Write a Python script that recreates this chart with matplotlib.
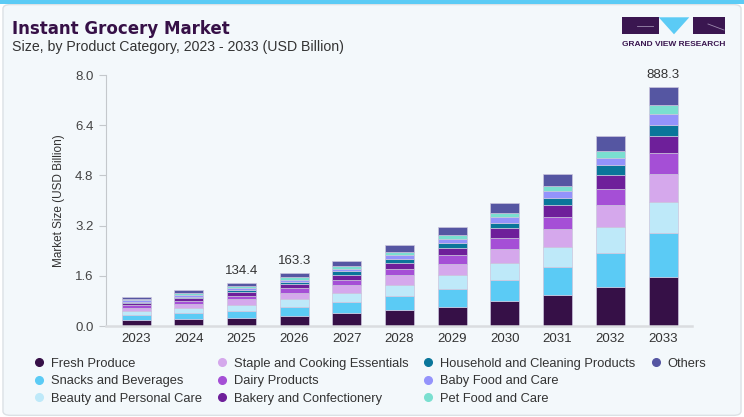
import numpy as np
import matplotlib
matplotlib.use("Agg")
from matplotlib import pyplot as plt
from matplotlib.lines import Line2D
from matplotlib.patches import FancyBboxPatch, Rectangle, Polygon

plt.rcParams['font.family'] = ['Liberation Sans', 'DejaVu Sans']

# values (USD billion)
years = ['2023', '2024', '2025', '2026', '2027', '2028', '2029', '2030', '2031', '2032', '2033']
fresh = [0.18, 0.21, 0.25, 0.33, 0.40, 0.51, 0.62, 0.79, 0.99, 1.24, 1.57]
snacks = [0.16, 0.20, 0.24, 0.29, 0.37, 0.45, 0.57, 0.69, 0.88, 1.08, 1.38]
beauty = [0.13, 0.16, 0.19, 0.23, 0.29, 0.34, 0.42, 0.53, 0.64, 0.82, 1.01]
staple = [0.11, 0.14, 0.17, 0.21, 0.24, 0.31, 0.36, 0.46, 0.57, 0.71, 0.88]
dairy = [0.08, 0.10, 0.12, 0.14, 0.18, 0.22, 0.28, 0.34, 0.41, 0.53, 0.68]
bakery = [0.07, 0.07, 0.10, 0.13, 0.15, 0.18, 0.23, 0.30, 0.36, 0.44, 0.53]
household = [0.05, 0.06, 0.07, 0.08, 0.11, 0.14, 0.16, 0.18, 0.23, 0.30, 0.37]
baby = [0.04, 0.05, 0.06, 0.07, 0.08, 0.11, 0.14, 0.17, 0.21, 0.25, 0.33]
pet = [0.04, 0.05, 0.06, 0.07, 0.08, 0.10, 0.12, 0.15, 0.17, 0.22, 0.28]
others = [0.08, 0.10, 0.12, 0.14, 0.17, 0.22, 0.27, 0.31, 0.39, 0.48, 0.59]

series = [fresh, snacks, beauty, staple, dairy, bakery, household, baby, pet, others]
names = ['Fresh Produce', 'Snacks and Beverages', 'Beauty and Personal Care',
         'Staple and Cooking Essentials', 'Dairy Products', 'Bakery and Confectionery',
         'Household and Cleaning Products', 'Baby Food and Care', 'Pet Food and Care', 'Others']
colors = ['#361047', '#5BCBF5', '#BEE9F9', '#D5A8EC', '#A54FD6',
          '#6E1F9A', '#0A769A', '#9493FB', '#7ADFD0', '#5556A2']

# labels printed above some bars
label_idx = [2, 3, 10]
label_txt = ['134.4', '163.3', '888.3']

bg = '#F3F8FB'
fig = plt.figure(figsize=(7.44, 4.17), dpi=100, facecolor='white')

# card + top strip (kept under the axes)
card = FancyBboxPatch((0.004, 0.004), 0.992, 0.985, boxstyle="round,pad=0,rounding_size=0.01",
                      transform=fig.transFigure, facecolor=bg, edgecolor='#DCE1E5', lw=1,
                      zorder=-10)
fig.patches.append(card)
fig.patches.append(Rectangle((0, 0.991), 1, 0.009, transform=fig.transFigure,
                             facecolor='#5BCBF5', edgecolor='none', zorder=-9))

ax = fig.add_axes([0.1425, 0.2182, 0.7876, 0.6019])
ax.set_facecolor('none')

x = np.arange(len(years))
bottom = np.zeros(len(years))
for vals, name, col in zip(series, names, colors):
    ax.bar(x, vals, width=0.55, bottom=bottom, color=col, label=name,
           edgecolor='#CBC5DD', linewidth=0.5)
    bottom += np.array(vals)

for i, t in zip(label_idx, label_txt):
    ax.annotate(t, (x[i], bottom[i]), xytext=(0, 4), textcoords='offset points',
                ha='center', va='bottom', fontsize=9.5, color='#333333')

ax.set_xlim(-0.57, 10.55)
ax.set_ylim(0, 8.0)
ax.set_yticks([0, 1.6, 3.2, 4.8, 6.4, 8.0])
ax.set_yticklabels(['0.0', '1.6', '3.2', '4.8', '6.4', '8.0'])
ax.set_xticks(x)
ax.set_xticklabels(years)
ax.tick_params(axis='y', length=5, width=0.8, color='#C4C8CC', pad=4,
               labelsize=9.5, labelcolor='#444444')
ax.tick_params(axis='x', length=0, pad=5, labelsize=9.5, labelcolor='#333333')
ax.set_ylabel('Market Size (USD Billion)', fontsize=8.5, color='#333333', labelpad=7)

for s in ['top', 'right']:
    ax.spines[s].set_visible(False)
ax.spines['left'].set_color('#C4C8CC')
ax.spines['left'].set_linewidth(0.8)
ax.spines['bottom'].set_color('#DADDE0')
ax.spines['bottom'].set_linewidth(1.8)

# titles
fig.text(0.016, 1 - 33.5 / 417, 'Instant Grocery Market', fontsize=12, fontweight='bold',
         family='DejaVu Sans', color='#361047', va='baseline')
fig.text(0.016, 1 - 51.5 / 417, 'Size, by Product Category, 2023 - 2033 (USD Billion)',
         fontsize=10.2, color='#333333', va='baseline')

# logo
W, H = 744.0, 417.0
def fx(px):
    return px / W
def fy(py):
    return 1 - py / H
fig.patches.append(Rectangle((fx(622), fy(34.3)), fx(36.5), 17 / H, transform=fig.transFigure,
                             facecolor='#3A1650', edgecolor='none'))
fig.patches.append(Rectangle((fx(693.3), fy(34.3)), fx(32), 17 / H, transform=fig.transFigure,
                             facecolor='#3A1650', edgecolor='none'))
fig.patches.append(Polygon([(fx(658.7), fy(17.3)), (fx(689.3), fy(17.3)), (fx(674), fy(34.3))],
                           closed=True, transform=fig.transFigure, facecolor='#5BCBF5',
                           edgecolor='none'))
fig.add_artist(Line2D([fx(637), fx(653)], [fy(26), fy(26)], transform=fig.transFigure,
                      color='#9C8AAE', lw=0.6))
fig.add_artist(Line2D([fx(708), fx(724)], [fy(24), fy(30)], transform=fig.transFigure,
                      color='#9C8AAE', lw=0.6))
fig.text(fx(673.5), fy(46), 'GRAND VIEW RESEARCH', fontsize=6, fontweight='bold',
         color='#3A1650', ha='center', va='baseline')

# legend, column by column with two blank slots to finish the 4th column
handles = [Line2D([], [], ls='none', marker='o', ms=5.5, mfc=c, mec=c) for c in colors]
labels = list(names)
blank = Line2D([], [], ls='none')
handles += [blank, blank]
labels += ['', '']
fig.legend(handles, labels, ncol=4, loc='upper left', bbox_to_anchor=(0.0446, 0.142),
           frameon=False, fontsize=9.3, handlelength=0.9, handletextpad=0.45,
           columnspacing=1.12, labelspacing=0.41, borderpad=0, borderaxespad=0,
           labelcolor='#333333')

plt.savefig('out.png', dpi=100, facecolor='white')
